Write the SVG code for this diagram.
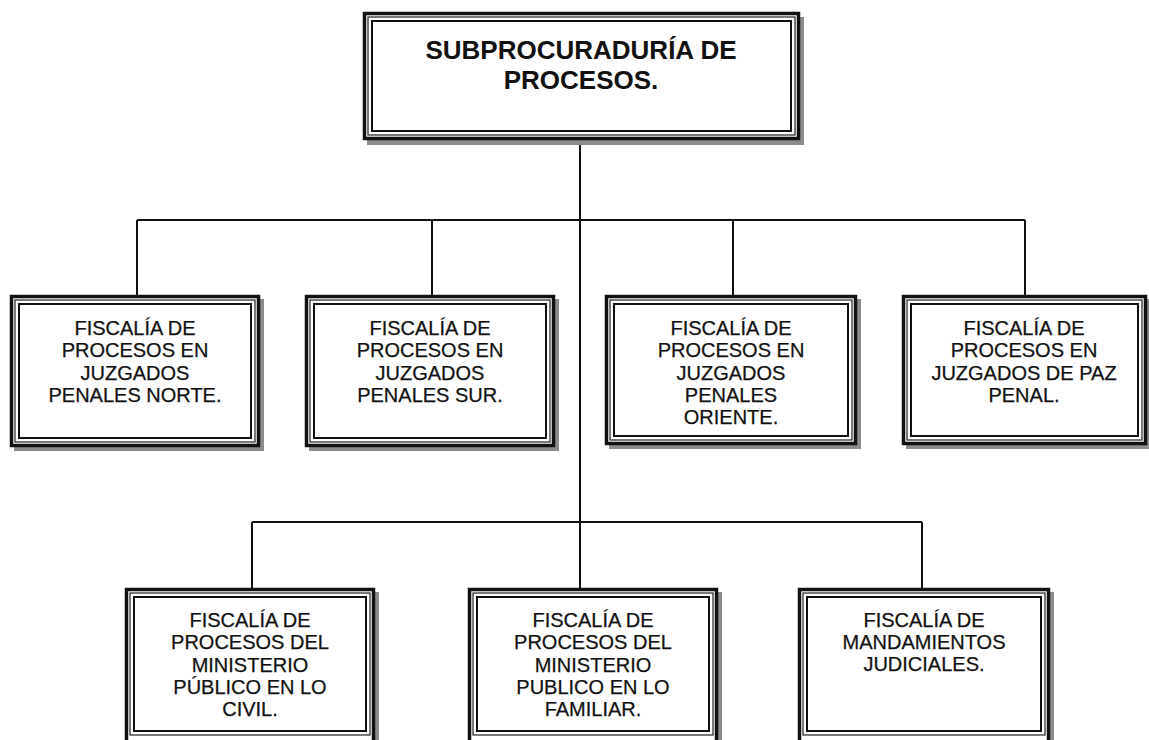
<svg xmlns="http://www.w3.org/2000/svg" width="1149" height="740" viewBox="0 0 1149 740">
<style>
.sh{fill:#8c8c8c}
.o{fill:#fff;stroke:#111;stroke-width:3.5}
.m{fill:none;stroke:#222;stroke-width:1.2}
.i{fill:none;stroke:#111;stroke-width:2}
.c{fill:none;stroke:#111;stroke-width:2}
.t{font-family:"Liberation Sans",Arial,sans-serif;font-size:20px;fill:#111;stroke:#111;stroke-width:0.25;text-anchor:middle}
.h{font-family:"Liberation Sans",Arial,sans-serif;font-size:26px;font-weight:bold;fill:#111;text-anchor:middle}
</style>
<rect width="1149" height="740" fill="#fff"/>
<g id="connectors">
<path class="c" d="M580 143V588M137 220H1025M137 220V295M432 220V295M733 220V295M1025 220V295M252 522H922M252 522V588M922 522V588"/>
</g>
<g id="n0">
<rect class="sh" x="367" y="17" width="437" height="128"/>
<rect class="o" x="364.5" y="13.5" width="434" height="125"/>
<rect class="m" x="368" y="17" width="427" height="118"/>
<rect class="i" x="372" y="21" width="419" height="110"/>
<text class="h" x="581" y="59">SUBPROCURADURÍA DE</text>
<text class="h" x="581" y="89">PROCESOS.</text>
</g>
<g id="n1">
<rect class="sh" x="14" y="299" width="250" height="152"/>
<rect class="o" x="11.5" y="296.5" width="247" height="149"/>
<rect class="m" x="15" y="300" width="240" height="142"/>
<rect class="i" x="19" y="304" width="232" height="134"/>
<text class="t" x="135" y="335">FISCALÍA DE</text>
<text class="t" x="135" y="357">PROCESOS EN</text>
<text class="t" x="135" y="380">JUZGADOS</text>
<text class="t" x="135" y="402">PENALES NORTE.</text>
</g>
<g id="n2">
<rect class="sh" x="309" y="299" width="250" height="152"/>
<rect class="o" x="306.5" y="296.5" width="247" height="149"/>
<rect class="m" x="310" y="300" width="240" height="142"/>
<rect class="i" x="314" y="304" width="232" height="134"/>
<text class="t" x="430" y="335">FISCALÍA DE</text>
<text class="t" x="430" y="357">PROCESOS EN</text>
<text class="t" x="430" y="380">JUZGADOS</text>
<text class="t" x="430" y="402">PENALES SUR.</text>
</g>
<g id="n3">
<rect class="sh" x="609" y="299" width="252" height="150"/>
<rect class="o" x="606.5" y="296.5" width="249" height="147"/>
<rect class="m" x="610" y="300" width="242" height="140"/>
<rect class="i" x="614" y="304" width="234" height="132"/>
<text class="t" x="731" y="335">FISCALÍA DE</text>
<text class="t" x="731" y="357">PROCESOS EN</text>
<text class="t" x="731" y="380">JUZGADOS</text>
<text class="t" x="731" y="402">PENALES</text>
<text class="t" x="731" y="424">ORIENTE.</text>
</g>
<g id="n4">
<rect class="sh" x="906" y="299" width="245" height="150"/>
<rect class="o" x="903.5" y="296.5" width="242" height="147"/>
<rect class="m" x="907" y="300" width="235" height="140"/>
<rect class="i" x="911" y="304" width="227" height="132"/>
<text class="t" x="1024" y="335">FISCALÍA DE</text>
<text class="t" x="1024" y="357">PROCESOS EN</text>
<text class="t" x="1024" y="380">JUZGADOS DE PAZ</text>
<text class="t" x="1024" y="402">PENAL.</text>
</g>
<g id="n5">
<rect class="sh" x="129" y="592" width="250" height="160"/>
<rect class="o" x="126.5" y="589.5" width="247" height="157"/>
<rect class="m" x="130" y="593" width="240" height="142"/>
<rect class="i" x="134" y="597" width="232" height="134"/>
<text class="t" x="250" y="627">FISCALÍA DE</text>
<text class="t" x="250" y="649">PROCESOS DEL</text>
<text class="t" x="250" y="672">MINISTERIO</text>
<text class="t" x="250" y="694">PÚBLICO EN LO</text>
<text class="t" x="250" y="716">CIVIL.</text>
</g>
<g id="n6">
<rect class="sh" x="472" y="592" width="250" height="160"/>
<rect class="o" x="469.5" y="589.5" width="247" height="157"/>
<rect class="m" x="473" y="593" width="240" height="142"/>
<rect class="i" x="477" y="597" width="232" height="134"/>
<text class="t" x="593" y="627">FISCALÍA DE</text>
<text class="t" x="593" y="649">PROCESOS DEL</text>
<text class="t" x="593" y="672">MINISTERIO</text>
<text class="t" x="593" y="694">PUBLICO EN LO</text>
<text class="t" x="593" y="716">FAMILIAR.</text>
</g>
<g id="n7">
<rect class="sh" x="802" y="592" width="252" height="160"/>
<rect class="o" x="799.5" y="589.5" width="249" height="157"/>
<rect class="m" x="803" y="593" width="242" height="142"/>
<rect class="i" x="807" y="597" width="234" height="134"/>
<text class="t" x="924" y="627">FISCALÍA DE</text>
<text class="t" x="924" y="649">MANDAMIENTOS</text>
<text class="t" x="924" y="671">JUDICIALES.</text>
</g>
</svg>
